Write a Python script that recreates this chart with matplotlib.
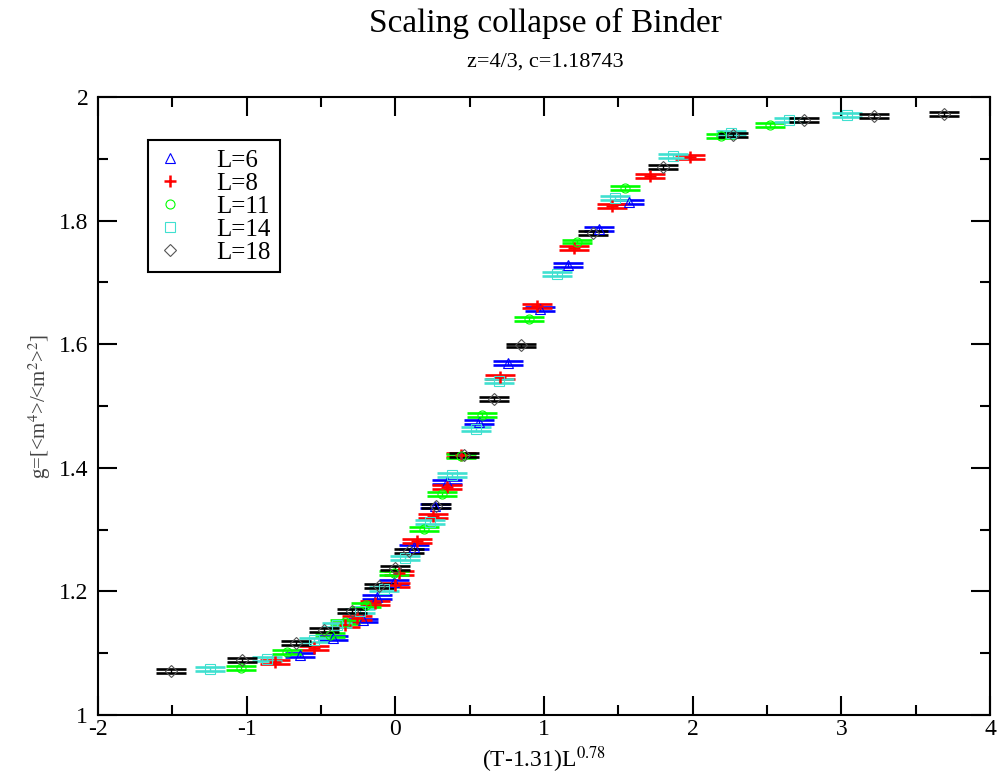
import numpy as np
import matplotlib
matplotlib.use("Agg")
import matplotlib.pyplot as plt
from matplotlib.ticker import MultipleLocator, FuncFormatter

plt.rcParams['font.family'] = ['Liberation Serif', 'DejaVu Serif']
plt.rcParams['mathtext.fontset'] = 'stix'
plt.rcParams['axes.unicode_minus'] = False

# data: x = (T-1.31)L^0.78, y = Binder ratio g
x_L6 = [-0.64, -0.42, -0.22, -0.12, -0.007, 0.128, 0.265, 0.35, 0.565, 0.76, 0.975, 1.16, 1.37, 1.57]
g_L6 = [1.097, 1.125, 1.153, 1.191, 1.215, 1.272, 1.338, 1.377, 1.474, 1.570, 1.657, 1.728, 1.786, 1.830]

x_L8 = [-0.81, -0.545, -0.336, -0.256, -0.14, 0.0, 0.027, 0.148, 0.25, 0.35, 0.44, 0.706, 0.955, 1.20, 1.46, 1.71, 1.98]
g_L8 = [1.086, 1.108, 1.146, 1.157, 1.181, 1.210, 1.230, 1.282, 1.322, 1.369, 1.421, 1.547, 1.662, 1.756, 1.824, 1.872, 1.903]

x_L11 = [-1.04, -0.73, -0.44, -0.34, -0.20, -0.007, 0.19, 0.316, 0.44, 0.58, 0.90, 1.22, 1.547, 2.19, 2.52]
g_L11 = [1.076, 1.102, 1.130, 1.150, 1.178, 1.230, 1.301, 1.358, 1.419, 1.485, 1.641, 1.766, 1.853, 1.937, 1.955]

x_L14 = [-1.25, -0.86, -0.545, -0.39, -0.235, -0.074, 0.067, 0.23, 0.383, 0.54, 0.70, 1.09, 1.48, 1.87, 2.26, 2.65, 3.04]
g_L14 = [1.074, 1.091, 1.121, 1.146, 1.168, 1.204, 1.254, 1.312, 1.388, 1.463, 1.540, 1.714, 1.836, 1.904, 1.942, 1.963, 1.971]

x_L18 = [-1.51, -1.03, -0.67, -0.477, -0.29, -0.108, 0.0, 0.094, 0.276, 0.464, 0.665, 0.847, 1.33, 1.80, 2.27, 2.75, 3.22, 3.69]
g_L18 = [1.071, 1.089, 1.116, 1.138, 1.168, 1.209, 1.238, 1.265, 1.338, 1.421, 1.511, 1.598, 1.780, 1.887, 1.939, 1.963, 1.969, 1.972]

series = [
    ("L=6", x_L6, g_L6, "^", "#0000ff"),
    ("L=8", x_L8, g_L8, "+", "#ff0000"),
    ("L=11", x_L11, g_L11, "o", "#00ff00"),
    ("L=14", x_L14, g_L14, "s", "#40e0d0"),
    ("L=18", x_L18, g_L18, "D", "#000000"),
]

fig = plt.figure(figsize=(10, 7.81), dpi=100)
ax = fig.add_axes([0.098, 0.0845, 0.892, 0.7913])

for label, xs, gs, mk, col in series:
    # tiny y errors -> Grace-style caps show up as horizontal bars
    ax.errorbar(xs, gs, yerr=0.003, fmt='none', ecolor=col, elinewidth=1.0,
                capsize=11, capthick=1.9, zorder=2)
    ms = 9 if mk == "+" else 6.5
    mew = 1.8 if mk == "+" else 0.8
    mc = '#555555' if mk == "D" else col
    ax.plot(xs, gs, linestyle='none', marker=mk, markersize=ms,
            markerfacecolor='none', markeredgecolor=mc, markeredgewidth=mew,
            label=label, zorder=3)

ax.set_xlim(-2, 4)
ax.set_ylim(1, 2)
ax.xaxis.set_major_locator(MultipleLocator(1))
ax.xaxis.set_minor_locator(MultipleLocator(0.5))
ax.yaxis.set_major_locator(MultipleLocator(0.2))
ax.yaxis.set_minor_locator(MultipleLocator(0.1))
fmt = FuncFormatter(lambda v, p: "%g" % round(v, 3))
ax.xaxis.set_major_formatter(fmt)
ax.yaxis.set_major_formatter(fmt)
ax.tick_params(which='both', direction='in', top=True, right=True, width=1.5, labelsize=17)
ax.tick_params(which='major', length=14)
ax.tick_params(which='minor', length=7)
ax.tick_params(axis='y', pad=7)
ax.tick_params(axis='x', pad=3)
for sp in ax.spines.values():
    sp.set_linewidth(1.5)

ax.set_xlabel(r"(T-1.31)L$^{0.78}$", fontsize=17, labelpad=3)
ax.set_ylabel(r"g=[<m$^4$>/<m$^2$>$^2$]", fontsize=15, color='#444444', labelpad=4)

fig.text(0.545, 0.970, "Scaling collapse of Binder", ha='center', va='center', fontsize=24)
fig.text(0.545, 0.920, "z=4/3, c=1.18743", ha='center', va='center', fontsize=16)

leg = ax.legend(loc='upper left', bbox_to_anchor=(0.056, 0.93), borderaxespad=0,
                fancybox=False, edgecolor='black', framealpha=1, fontsize=18,
                handlelength=1.1, handletextpad=1.3, labelspacing=0.02,
                borderpad=0.35)
leg.get_frame().set_linewidth(1.5)

fig.savefig("out.png", dpi=100)
